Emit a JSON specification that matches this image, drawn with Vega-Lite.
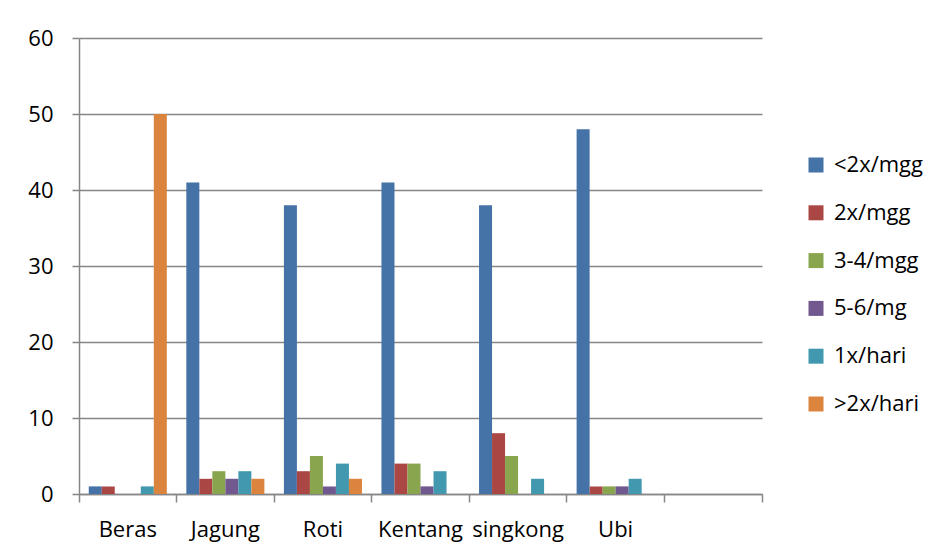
{
  "$schema": "https://vega.github.io/schema/vega-lite/v6.json",
  "autosize": {"type": "none"},
  "padding": {"left": 79, "top": 38, "right": 179, "bottom": 65},
  "width": 683,
  "height": 456,
  "background": "white",
  "config": {
    "font": "Open Sans",
    "view": {"stroke": null},
    "axis": {
      "labelFont": "Open Sans",
      "labelFontSize": 22,
      "labelColor": "#000000",
      "domainColor": "#868686",
      "domainWidth": 1.5,
      "tickColor": "#868686",
      "tickWidth": 1.5,
      "gridColor": "#868686",
      "gridWidth": 1.3
    }
  },
  "data": {
    "values": [
      {"makanan": "Beras", "frekuensi": "<2x/mgg", "jumlah": 1},
      {"makanan": "Beras", "frekuensi": "2x/mgg", "jumlah": 1},
      {"makanan": "Beras", "frekuensi": "3-4/mgg", "jumlah": 0},
      {"makanan": "Beras", "frekuensi": "5-6/mg", "jumlah": 0},
      {"makanan": "Beras", "frekuensi": "1x/hari", "jumlah": 1},
      {"makanan": "Beras", "frekuensi": ">2x/hari", "jumlah": 50},
      {"makanan": "Jagung", "frekuensi": "<2x/mgg", "jumlah": 41},
      {"makanan": "Jagung", "frekuensi": "2x/mgg", "jumlah": 2},
      {"makanan": "Jagung", "frekuensi": "3-4/mgg", "jumlah": 3},
      {"makanan": "Jagung", "frekuensi": "5-6/mg", "jumlah": 2},
      {"makanan": "Jagung", "frekuensi": "1x/hari", "jumlah": 3},
      {"makanan": "Jagung", "frekuensi": ">2x/hari", "jumlah": 2},
      {"makanan": "Roti", "frekuensi": "<2x/mgg", "jumlah": 38},
      {"makanan": "Roti", "frekuensi": "2x/mgg", "jumlah": 3},
      {"makanan": "Roti", "frekuensi": "3-4/mgg", "jumlah": 5},
      {"makanan": "Roti", "frekuensi": "5-6/mg", "jumlah": 1},
      {"makanan": "Roti", "frekuensi": "1x/hari", "jumlah": 4},
      {"makanan": "Roti", "frekuensi": ">2x/hari", "jumlah": 2},
      {"makanan": "Kentang", "frekuensi": "<2x/mgg", "jumlah": 41},
      {"makanan": "Kentang", "frekuensi": "2x/mgg", "jumlah": 4},
      {"makanan": "Kentang", "frekuensi": "3-4/mgg", "jumlah": 4},
      {"makanan": "Kentang", "frekuensi": "5-6/mg", "jumlah": 1},
      {"makanan": "Kentang", "frekuensi": "1x/hari", "jumlah": 3},
      {"makanan": "Kentang", "frekuensi": ">2x/hari", "jumlah": 0},
      {"makanan": "singkong", "frekuensi": "<2x/mgg", "jumlah": 38},
      {"makanan": "singkong", "frekuensi": "2x/mgg", "jumlah": 8},
      {"makanan": "singkong", "frekuensi": "3-4/mgg", "jumlah": 5},
      {"makanan": "singkong", "frekuensi": "5-6/mg", "jumlah": 0},
      {"makanan": "singkong", "frekuensi": "1x/hari", "jumlah": 2},
      {"makanan": "singkong", "frekuensi": ">2x/hari", "jumlah": 0},
      {"makanan": "Ubi", "frekuensi": "<2x/mgg", "jumlah": 48},
      {"makanan": "Ubi", "frekuensi": "2x/mgg", "jumlah": 1},
      {"makanan": "Ubi", "frekuensi": "3-4/mgg", "jumlah": 1},
      {"makanan": "Ubi", "frekuensi": "5-6/mg", "jumlah": 1},
      {"makanan": "Ubi", "frekuensi": "1x/hari", "jumlah": 2},
      {"makanan": "Ubi", "frekuensi": ">2x/hari", "jumlah": 0}
    ]
  },
  "mark": {"type": "bar"},
  "encoding": {
    "x": {
      "field": "makanan",
      "type": "nominal",
      "title": null,
      "scale": {
        "domain": ["Beras", "Jagung", "Roti", "Kentang", "singkong", "Ubi", " "],
        "paddingInner": 0,
        "paddingOuter": 0
      },
      "axis": {
        "labelAngle": 0,
        "bandPosition": 1,
        "tickExtra": true,
        "tickSize": 8,
        "labelPadding": 17,
        "labelBaseline": "top",
        "labelFontSize": 22,
        "labelFont": "Open Sans",
        "grid": false
      }
    },
    "xOffset": {
      "field": "frekuensi",
      "type": "nominal",
      "scale": {
        "domain": ["<2x/mgg", "2x/mgg", "3-4/mgg", "5-6/mg", "1x/hari", ">2x/hari"],
        "paddingInner": 0,
        "paddingOuter": 0.75
      }
    },
    "y": {
      "field": "jumlah",
      "type": "quantitative",
      "title": null,
      "scale": {"domain": [0, 60], "nice": false},
      "axis": {
        "values": [0, 10, 20, 30, 40, 50, 60],
        "tickSize": 7,
        "labelPadding": 19,
        "labelFontSize": 22,
        "labelFont": "Open Sans",
        "grid": true
      }
    },
    "color": {
      "field": "frekuensi",
      "type": "nominal",
      "title": null,
      "scale": {
        "domain": ["<2x/mgg", "2x/mgg", "3-4/mgg", "5-6/mg", "1x/hari", ">2x/hari"],
        "range": ["#4572A7", "#AA4643", "#89A54E", "#71588F", "#4198AF", "#DB843D"]
      },
      "legend": {
        "orient": "none",
        "legendX": 726,
        "legendY": 116,
        "padding": 0,
        "symbolType": "square",
        "symbolSize": 225,
        "symbolStrokeWidth": 0,
        "labelFont": "Open Sans",
        "labelFontSize": 22,
        "labelColor": "#000000",
        "labelOffset": 7,
        "rowPadding": 25.8
      }
    }
  }
}
